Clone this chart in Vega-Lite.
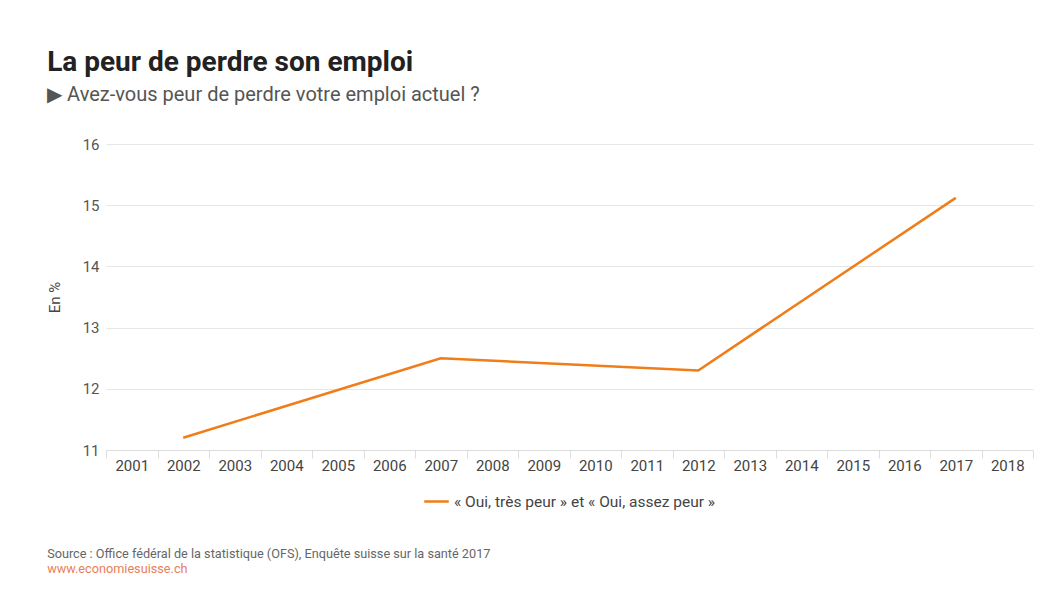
{
  "$schema": "https://vega.github.io/schema/vega-lite/v6.json",
  "background": "white",
  "padding": {"left": 47, "top": 49, "right": 20, "bottom": 10},
  "title": {
    "text": "Source : Office fédéral de la statistique (OFS), Enquête suisse sur la santé 2017",
    "subtitle": "www.economiesuisse.ch",
    "orient": "bottom",
    "anchor": "start",
    "font": "Roboto",
    "fontSize": 12.7,
    "fontWeight": "normal",
    "color": "#666666",
    "subtitleFont": "Roboto",
    "subtitleFontSize": 12.7,
    "subtitleColor": "#e8805a",
    "subtitlePadding": 2,
    "offset": 38
  },
  "config": {"view": {"stroke": null}, "legend": {"layout": {"bottom": {"anchor": "middle"}}}},
  "vconcat": [
    {
      "title": {
        "text": "La peur de perdre son emploi",
        "subtitle": "▶ Avez-vous peur de perdre votre emploi actuel ?",
        "anchor": "start",
        "frame": "bounds",
        "font": "Roboto",
        "fontSize": 28,
        "fontWeight": "bold",
        "color": "#222222",
        "subtitleFont": "Roboto",
        "subtitleFontSize": 20,
        "subtitleColor": "#555555",
        "subtitlePadding": 8,
        "offset": 32
      },
      "width": 927,
      "height": 306,
      "data": {"values": [
        {"annee": "2002", "valeur": 11.2, "serie": "« Oui, très peur » et « Oui, assez peur »"},
        {"annee": "2007", "valeur": 12.5, "serie": "« Oui, très peur » et « Oui, assez peur »"},
        {"annee": "2012", "valeur": 12.3, "serie": "« Oui, très peur » et « Oui, assez peur »"},
        {"annee": "2017", "valeur": 15.12, "serie": "« Oui, très peur » et « Oui, assez peur »"}
      ]},
      "mark": {"type": "line", "strokeWidth": 2.5},
      "encoding": {
        "x": {
          "field": "annee", "type": "ordinal",
          "scale": {"type": "band", "paddingInner": 0, "paddingOuter": 0,
            "domain": ["2001","2002","2003","2004","2005","2006","2007","2008","2009","2010","2011","2012","2013","2014","2015","2016","2017","2018"]},
          "axis": {"title": null, "labelAngle": 0, "tickBand": "extent", "tickSize": 8, "tickColor": "#dddddd", "domainColor": "#dddddd",
            "labelFont": "Roboto", "labelFontSize": 15, "labelColor": "#444444", "labelPadding": 0}
        },
        "y": {
          "field": "valeur", "type": "quantitative",
          "scale": {"domain": [11, 16], "zero": false},
          "axis": {"title": "En %", "values": [11, 12, 13, 14, 15, 16], "domain": false, "ticks": false,
            "gridColor": "#e6e6e6", "labelFont": "Roboto", "labelFontSize": 15, "labelColor": "#555555", "labelPadding": 7,
            "titleFont": "Roboto", "titleFontSize": 15, "titleFontWeight": "normal", "titleColor": "#444444", "titlePadding": 20}
        },
        "color": {
          "field": "serie", "type": "nominal",
          "scale": {"range": ["#ef7d1a"]},
          "legend": {"orient": "bottom", "title": null, "symbolType": "stroke", "symbolSize": 600, "symbolStrokeWidth": 2.5,
            "labelFont": "Roboto", "labelFontSize": 15.5, "labelColor": "#444444", "labelLimit": 0, "offset": 15}
        }
      }
    }
  ]
}
